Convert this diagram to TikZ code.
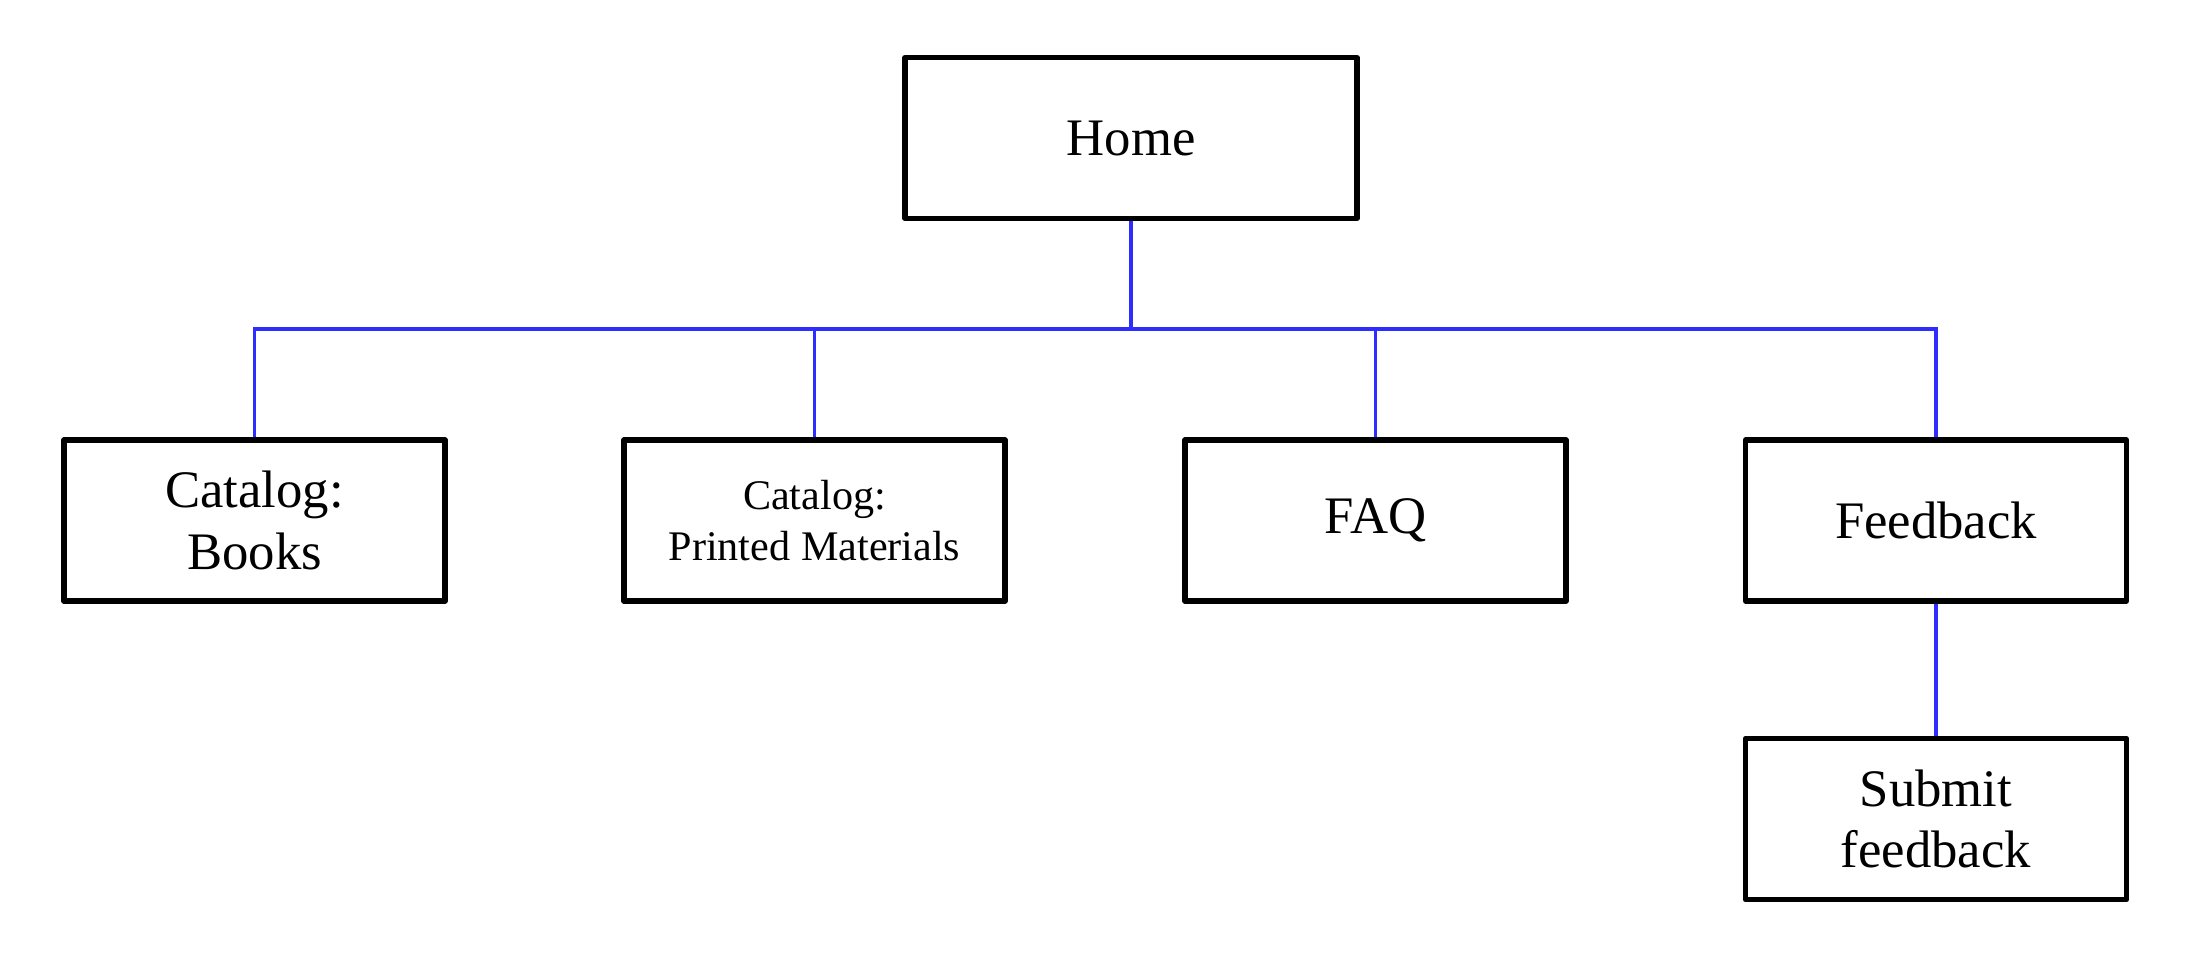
\documentclass[tikz,border=0pt]{standalone}
\usepackage{fontspec}
\setmainfont{Liberation Serif}
\usepackage{tikz}

\definecolor{linkblue}{RGB}{45,45,255}

\tikzset{
    page/.style={draw=black, line width=1.5pt, line join=round, fill=white,
        minimum width=3.81cm, minimum height=1.61cm, inner sep=0pt,
        align=center, font=\fontsize{15}{17.5}\selectfont},
    link/.style={draw=linkblue, line width=0.95pt}
}

\begin{document}
\begin{tikzpicture}
    \useasboundingbox (0,0) rectangle (21.96,-9.63);

    % Pages of the site
    \node[page, minimum width=4.52cm] (home) at (11.31, -1.38) {Home};

    \node[page] (books) at (2.545, -5.205) {Catalog:\\Books};
    \node[page, font=\fontsize{12}{14.5}\selectfont] (printed) at (8.145, -5.205) {Catalog:\\Printed Materials};
    \node[page] (faq) at (13.755, -5.205) {FAQ};
    \node[page] (feedback) at (19.36, -5.205) {Feedback};

    \node[page] (submit) at (19.36, -8.19) {Submit\\feedback};

    % Draw the links
    \coordinate (hub) at (11.31, -3.29);
    \draw[link] (home.south) -- (hub);
    \foreach \n in {books, printed, faq, feedback}
        \draw[link] (hub) -| (\n.north);
    \draw[link] (feedback.south) -- (submit.north);
\end{tikzpicture}
\end{document}
